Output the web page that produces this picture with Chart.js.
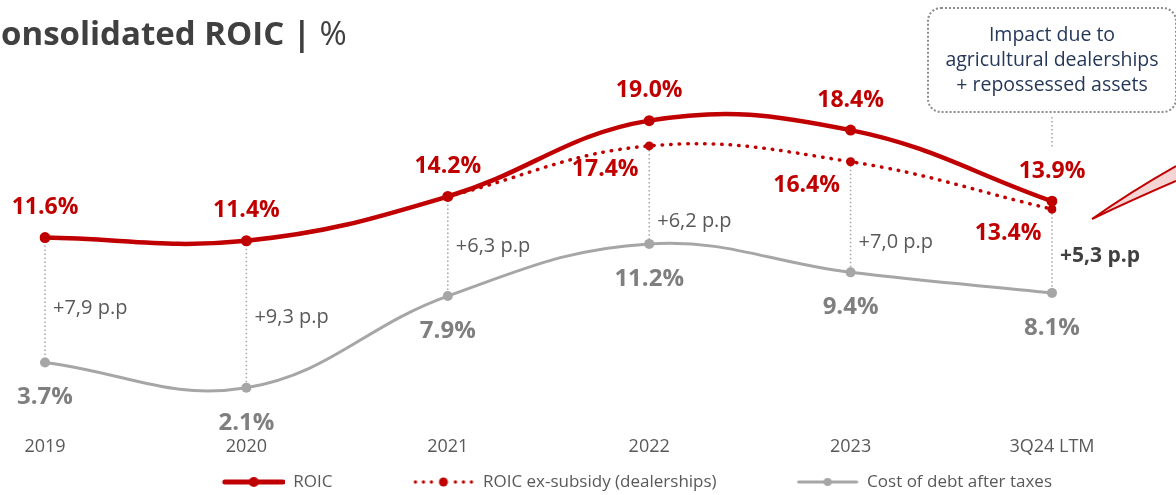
<!DOCTYPE html>
<html>
<head>
<meta charset="utf-8">
<title>Consolidated ROIC</title>
<script src="https://cdn.jsdelivr.net/npm/chart.js@4.4.1/dist/chart.umd.min.js"></script>
<style>
  html, body { margin: 0; padding: 0; background: #fff; }
  #wrap { position: relative; width: 1176px; height: 495px; overflow: hidden; }
  #roicChart { position: absolute; left: 0; top: 0; }
  #title {
    position: absolute; left: -20px; top: 16px;
    font-family: 'Open Sans', sans-serif; font-size: 33px; line-height: 1;
    color: #404040; white-space: nowrap;
  }
  #title span { font-weight: normal; }
  #note {
    position: absolute; left: 927px; top: 7px; width: 250px; height: 106px;
    box-sizing: border-box; border: 2px dotted #8c8c8c; border-radius: 14px;
    padding-top: 12px; text-align: center;
    font-family: 'Open Sans', sans-serif; font-size: 19.5px; line-height: 25px; color: #263859;
  }
</style>
</head>
<body>
<div id="wrap">
  <canvas id="roicChart" width="1176" height="495"></canvas>
  <div id="title"><b>Consolidated ROIC |</b><span> %</span></div>
  <div id="note">Impact due to<br>agricultural dealerships<br>+ repossessed assets</div>
</div>
<script>
const years = ['2019', '2020', '2021', '2022', '2023', '3Q24 LTM']
const roic = [11.6, 11.4, 14.2, 19.0, 18.4, 13.9]
const roicExSubsidy = [null, null, 14.2, 17.4, 16.4, 13.4]
const costOfDebt = [3.7, 2.1, 7.9, 11.2, 9.4, 8.1]

const red = '#c00000'
const grey = '#a6a6a6'
const font = "'Open Sans', sans-serif"

// where the "+x p.p" spread label sits between the two lines (0 = top, 1 = cost of debt)
const spreadLabelAt = [0.57, 0.52, 0.5, 0.77, 0.73, 0.56]

// legend swatches: a line with a marker, drawn into a small canvas.
// the empty 80px on the left is the gap to the previous legend entry
function legendSample(kind) {
  const c = document.createElement('canvas')
  c.width = 142
  c.height = 14
  const g = c.getContext('2d')
  const x0 = 80, x1 = 142, mid = 111, y = 7
  g.fillStyle = kind === 'grey' ? grey : red
  g.strokeStyle = g.fillStyle
  if (kind === 'dotted') {
    for (let x = x0 + 3; x <= x1 - 2; x += 8) {
      if (Math.abs(x - mid) < 6) continue
      g.beginPath(); g.arc(x, y, 1.7, 0, Math.PI * 2); g.fill()
    }
    g.beginPath(); g.arc(mid, y, 4.5, 0, Math.PI * 2); g.fill()
  } else {
    g.lineWidth = kind === 'grey' ? 3 : 5
    g.lineCap = 'round'
    g.beginPath(); g.moveTo(x0 + 2, y); g.lineTo(x1 - 2, y); g.stroke()
    g.beginPath(); g.arc(mid, y, kind === 'grey' ? 4 : 5, 0, Math.PI * 2); g.fill()
  }
  return c
}
const legendSamples = [legendSample('solid'), legendSample('dotted'), legendSample('grey')]

const annotations = {
  id: 'annotations',
  beforeDatasetsDraw(chart) {
    const ctx = chart.ctx
    const xs = chart.scales.x, ys = chart.scales.y
    ctx.save()
    ctx.strokeStyle = grey
    ctx.lineWidth = 1.5
    ctx.setLineDash([1.5, 2.5])
    years.forEach((yr, i) => {
      const x = xs.getPixelForValue(i)
      const top = roicExSubsidy[i] ?? roic[i]
      ctx.beginPath()
      ctx.moveTo(x, ys.getPixelForValue(top))
      ctx.lineTo(x, ys.getPixelForValue(costOfDebt[i]))
      ctx.stroke()
    })
    // connector from the note box down to the last point
    const xl = xs.getPixelForValue(years.length - 1)
    ctx.beginPath()
    ctx.moveTo(xl, 117)
    ctx.lineTo(xl, 148)
    ctx.stroke()
    ctx.restore()
  },
  afterDatasetsDraw(chart) {
    const ctx = chart.ctx
    const xs = chart.scales.x, ys = chart.scales.y
    ctx.save()
    ctx.textBaseline = 'middle'
    years.forEach((yr, i) => {
      const x = xs.getPixelForValue(i)
      const pr = ys.getPixelForValue(roic[i])
      const pc = ys.getPixelForValue(costOfDebt[i])

      ctx.font = 'bold 23px ' + font
      ctx.fillStyle = red
      ctx.textAlign = 'center'
      ctx.fillText(roic[i].toFixed(1) + '%', x, pr - 30)

      const ex = roicExSubsidy[i]
      if (ex != null && ex !== roic[i]) {
        ctx.fillText(ex.toFixed(1) + '%', x - 44, ys.getPixelForValue(ex) + 24)
      }

      ctx.font = 'bold 24px ' + font
      ctx.fillStyle = '#7f7f7f'
      ctx.fillText(costOfDebt[i].toFixed(1) + '%', x, pc + 35)

      // spread between ROIC (ex-subsidy where given) and cost of debt
      const top = ex ?? roic[i]
      const pt = ys.getPixelForValue(top)
      const spread = '+' + (top - costOfDebt[i]).toFixed(1).replace('.', ',') + ' p.p'
      const last = i === years.length - 1
      ctx.font = (last ? 'bold 21px ' : '20px ') + font
      ctx.fillStyle = last ? '#404040' : '#595959'
      ctx.textAlign = 'left'
      ctx.fillText(spread, x + 8, pt + (pc - pt) * spreadLabelAt[i])
    })

    // red swoosh at the right edge
    ctx.beginPath()
    ctx.moveTo(1092, 219)
    ctx.quadraticCurveTo(1130, 192, 1176, 166)
    ctx.lineTo(1176, 181)
    ctx.quadraticCurveTo(1132, 200, 1092, 219)
    ctx.fillStyle = '#f6d4d4'
    ctx.fill()
    ctx.strokeStyle = red
    ctx.lineWidth = 2
    ctx.beginPath()
    ctx.moveTo(1092, 219)
    ctx.quadraticCurveTo(1130, 192, 1176, 166)
    ctx.moveTo(1092, 219)
    ctx.quadraticCurveTo(1132, 200, 1176, 181)
    ctx.stroke()
    ctx.restore()
  }
}

new Chart(document.getElementById('roicChart'), {
  type: 'line',
  data: {
    labels: years,
    datasets: [{
      label: 'ROIC',
      data: roic,
      borderColor: red,
      backgroundColor: red,
      borderWidth: 4.5,
      pointRadius: 5.5,
      pointBorderWidth: 0,
      tension: 0.4
    }, {
      label: 'ROIC ex-subsidy (dealerships)',
      data: roicExSubsidy,
      borderColor: red,
      backgroundColor: red,
      borderWidth: 3.5,
      borderDash: [0.5, 8],
      borderCapStyle: 'round',
      pointRadius: 4.5,
      pointBorderWidth: 0,
      spanGaps: true,
      tension: 0.4
    }, {
      label: 'Cost of debt after taxes',
      data: costOfDebt,
      borderColor: grey,
      backgroundColor: grey,
      borderWidth: 3,
      pointRadius: 5,
      pointBorderWidth: 0,
      tension: 0.4
    }]
  },
  options: {
    responsive: false,
    animation: false,
    layout: { padding: { left: 45, right: 124, top: 10, bottom: 0 } },
    scales: {
      x: {
        offset: false,
        grid: { display: false, drawTicks: false },
        border: { display: false },
        ticks: { color: '#595959', padding: 15.5, font: { family: font, size: 18 } }
      },
      y: { display: false, min: 0, max: 26 }
    },
    plugins: {
      tooltip: { enabled: false },
      legend: {
        position: 'bottom',
        align: 'end',
        maxHeight: 21.5,
        labels: {
          usePointStyle: true,
          pointStyleWidth: 142,
          padding: 0,
          color: '#595959',
          font: { family: font, size: 17 },
          generateLabels: chart => chart.data.datasets.map((ds, i) => ({
            text: ds.label,
            pointStyle: legendSamples[i],
            datasetIndex: i,
            fontColor: '#595959',
            fillStyle: 'transparent',
            strokeStyle: 'transparent',
            lineWidth: 0,
            hidden: false
          }))
        }
      }
    }
  },
  plugins: [annotations]
})
</script>
</body>
</html>
